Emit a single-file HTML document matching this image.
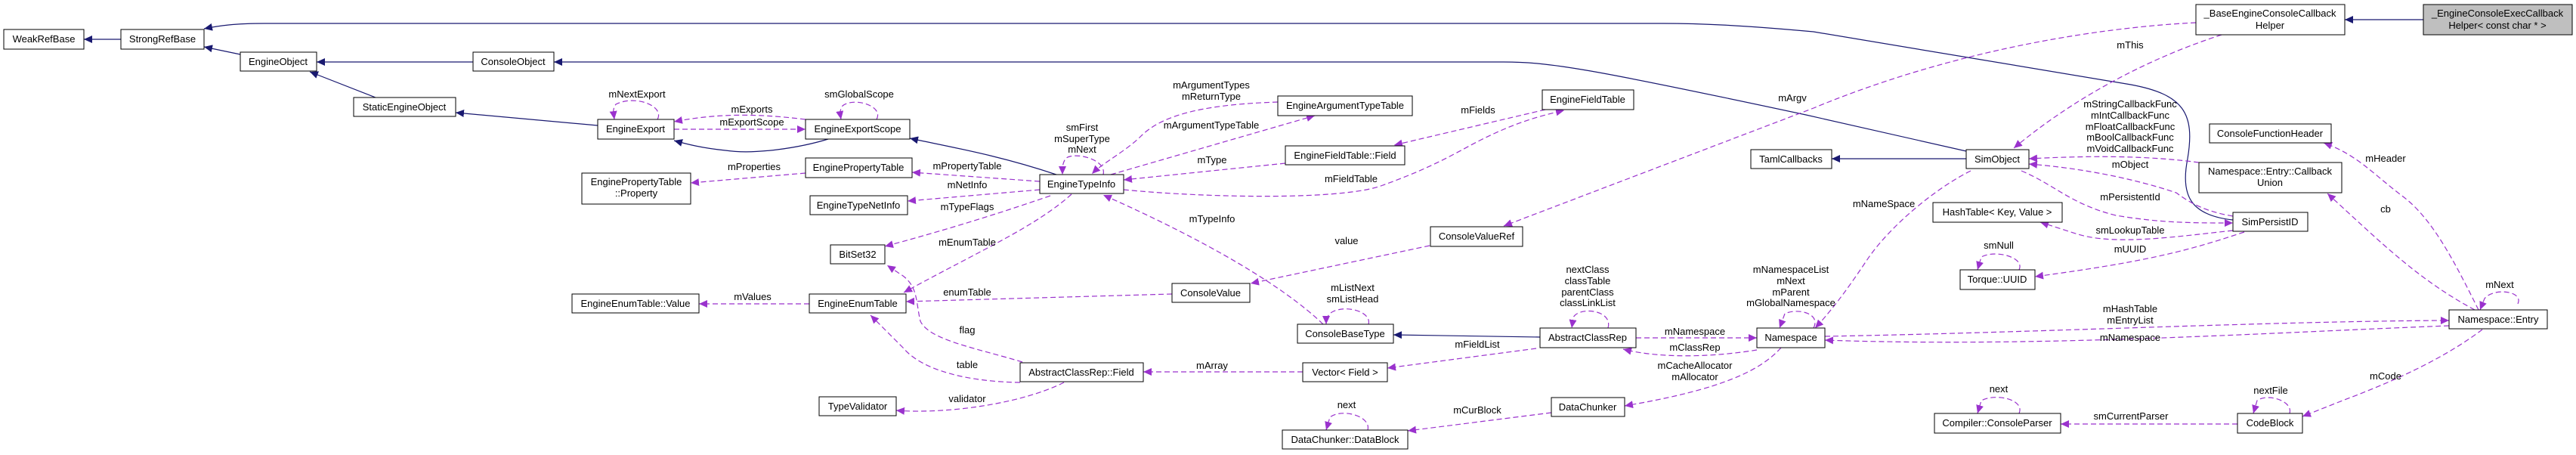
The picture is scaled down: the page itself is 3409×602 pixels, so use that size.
<!DOCTYPE html>
<html><head><meta charset="utf-8"><style>
html,body{margin:0;padding:0;background:#fff;}
svg{display:block;}
text{font-family:"Liberation Sans",Arial,sans-serif;font-size:13px;fill:#000;}
.n{fill:#fff;stroke:#000;stroke-width:1;}
.s{fill:none;stroke:#191970;stroke-width:1.2;marker-end:url(#b);}
.d{fill:none;stroke:#9a32cd;stroke-width:1.2;stroke-dasharray:7,4;marker-end:url(#a);}
</style></head><body>
<svg width="3409" height="602" viewBox="0 0 3409 602" xmlns="http://www.w3.org/2000/svg">
<defs>
<marker id="a" markerWidth="12" markerHeight="10" refX="11" refY="5" orient="auto" markerUnits="userSpaceOnUse"><path d="M0,0 L11,5 L0,10 z" fill="#9a32cd"/></marker>
<marker id="b" markerWidth="12" markerHeight="10" refX="11" refY="5" orient="auto" markerUnits="userSpaceOnUse"><path d="M0,0 L11,5 L0,10 z" fill="#191970"/></marker>
</defs>
<g text-anchor="middle">
<!-- solid edges -->
<path class="s" d="M160,52 L111,52"/>
<path class="s" d="M2955,291 C2900,285 2885,260 2895,210 C2905,150 2890,125 2820,112 L2400,42 C2300,33 2250,31 2200,31 L350,31 C310,31 290,34 270,38"/>
<path class="s" d="M318,72 L270,62"/>
<path class="s" d="M626,82 L419,82"/>
<path class="s" d="M497,129 L410,95"/>
<path class="s" d="M2602,200 L2390,152 C2100,90 2050,82 1990,82 L733,82"/>
<path class="s" d="M791,166 L603,149"/>
<path class="s" d="M1096,184 C1060,195 1000,205 960,199 C930,196 910,191 892,186"/>
<path class="s" d="M1398,231 C1320,205 1260,195 1204,183"/>
<path class="s" d="M2038,446 L1844,443"/>
<path class="s" d="M2602,210 L2424,210"/>
<path class="s" d="M3207,26 L3103,26"/>
<!-- dashed edges -->
<path class="d" d="M870,158 C880,140 840,125 815,138 C810,145 812,150 813,158"/>
<path class="d" d="M1066,158 C1000,150 950,150 892,161"/>
<path class="d" d="M892,171 L1066,171"/>
<path class="d" d="M1160,158 C1170,140 1130,128 1115,140 C1110,148 1112,152 1113,158"/>
<path class="d" d="M1066,229 L914,242"/>
<path class="d" d="M1071,402 L925,402"/>
<path class="d" d="M1376,240 L1207,228"/>
<path class="d" d="M1376,251 L1201,266"/>
<path class="d" d="M1390,259 C1300,290 1230,310 1171,326"/>
<path class="d" d="M1418,257 C1370,300 1300,330 1196,387"/>
<path class="d" d="M1460,231 C1465,210 1420,200 1410,210 C1405,218 1406,225 1406,231"/>
<path class="d" d="M1691,135 C1600,138 1540,150 1510,180 C1490,200 1460,215 1445,230"/>
<path class="d" d="M1470,231 L1740,153"/>
<path class="d" d="M1701,216 L1487,238"/>
<path class="d" d="M1487,251 C1600,262 1780,265 1830,245 C1900,220 1930,200 1960,185 C2000,165 2030,155 2070,146"/>
<path class="d" d="M2045,145 L1845,192"/>
<path class="d" d="M1751,429 C1700,380 1600,320 1460,258"/>
<path class="d" d="M1892,325 L1655,375"/>
<path class="d" d="M1551,389 L1199,399"/>
<path class="d" d="M1811,429 C1815,415 1790,405 1770,410 C1758,413 1755,420 1755,429"/>
<path class="d" d="M1353,479 C1290,460 1230,450 1218,425 C1212,400 1215,380 1195,365 L1174,351"/>
<path class="d" d="M1350,506 C1280,505 1220,490 1195,460 L1152,417"/>
<path class="d" d="M1408,506 C1350,535 1250,548 1186,543"/>
<path class="d" d="M1724,492 L1513,492"/>
<path class="d" d="M1810,569 C1815,550 1775,540 1760,552 L1755,569"/>
<path class="d" d="M2033,461 L1836,487"/>
<path class="d" d="M2128,434 C2135,410 2090,405 2082,420 L2080,434"/>
<path class="d" d="M2400,434 C2410,415 2380,407 2362,415 L2355,434"/>
<path class="d" d="M2165,447 L2325,447"/>
<path class="d" d="M2325,463 C2270,472 2200,475 2148,462"/>
<path class="d" d="M2357,460 C2330,490 2280,515 2150,537"/>
<path class="d" d="M2053,546 L1863,570"/>
<path class="d" d="M2906,30 C2800,35 2600,60 2400,143 L1990,299"/>
<path class="d" d="M2940,46 C2850,75 2750,125 2665,196"/>
<path class="d" d="M2910,215 C2850,207 2780,205 2685,210"/>
<path class="d" d="M2955,286 C2920,280 2900,270 2880,255 C2820,235 2750,222 2685,217"/>
<path class="d" d="M2675,226 C2720,245 2740,270 2800,285 C2860,295 2900,295 2955,295"/>
<path class="d" d="M2955,305 C2880,313 2800,325 2750,310 L2700,294"/>
<path class="d" d="M2970,307 C2900,330 2850,345 2693,366"/>
<path class="d" d="M2672,357 C2680,340 2640,330 2622,340 L2617,357"/>
<path class="d" d="M2608,226 C2560,250 2500,300 2470,345 C2440,390 2420,415 2402,434"/>
<path class="d" d="M2415,445 C2700,440 3000,425 3241,424"/>
<path class="d" d="M3241,431 C3000,440 2700,460 2415,450"/>
<path class="d" d="M2672,547 C2680,528 2640,520 2622,530 L2617,547"/>
<path class="d" d="M2961,561 L2727,561"/>
<path class="d" d="M3030,547 C3035,530 3000,520 2987,530 L2982,547"/>
<path class="d" d="M3280,410 C3250,350 3220,290 3180,260 C3140,230 3120,205 3075,189"/>
<path class="d" d="M3275,410 C3200,370 3150,320 3080,256"/>
<path class="d" d="M3332,402 C3340,385 3300,380 3288,395 L3282,410"/>
<path class="d" d="M3285,436 C3240,470 3180,500 3100,530 L3047,551"/>
<!-- nodes -->
<rect class="n" x="5" y="39" width="106" height="26"/><text x="58" y="56">WeakRefBase</text>
<rect class="n" x="160" y="39" width="110" height="26"/><text x="215" y="56">StrongRefBase</text>
<rect class="n" x="318" y="69" width="101" height="25"/><text x="368" y="86">EngineObject</text>
<rect class="n" x="468" y="129" width="135" height="25"/><text x="535" y="146">StaticEngineObject</text>
<rect class="n" x="626" y="69" width="107" height="25"/><text x="679" y="86">ConsoleObject</text>
<rect class="n" x="791" y="158" width="101" height="26"/><text x="841" y="175">EngineExport</text>
<rect class="n" x="1066" y="158" width="138" height="26"/><text x="1135" y="175">EngineExportScope</text>
<rect class="n" x="1066" y="209" width="141" height="26"/><text x="1136" y="226">EnginePropertyTable</text>
<rect class="n" x="770" y="229" width="144" height="41"/><text x="842" y="245">EnginePropertyTable</text><text x="842" y="260">::Property</text>
<rect class="n" x="1072" y="259" width="129" height="25"/><text x="1136" y="276">EngineTypeNetInfo</text>
<rect class="n" x="1099" y="324" width="72" height="25"/><text x="1135" y="341">BitSet32</text>
<rect class="n" x="757" y="389" width="168" height="25"/><text x="841" y="406">EngineEnumTable::Value</text>
<rect class="n" x="1071" y="389" width="128" height="25"/><text x="1135" y="406">EngineEnumTable</text>
<rect class="n" x="1084" y="525" width="102" height="25"/><text x="1135" y="542">TypeValidator</text>
<rect class="n" x="1376" y="231" width="111" height="25"/><text x="1431" y="248">EngineTypeInfo</text>
<rect class="n" x="1691" y="127" width="178" height="26"/><text x="1780" y="144">EngineArgumentTypeTable</text>
<rect class="n" x="1701" y="193" width="158" height="25"/><text x="1780" y="210">EngineFieldTable::Field</text>
<rect class="n" x="2041" y="119" width="121" height="26"/><text x="2101" y="136">EngineFieldTable</text>
<rect class="n" x="1551" y="375" width="103" height="25"/><text x="1602" y="392">ConsoleValue</text>
<rect class="n" x="1717" y="429" width="127" height="25"/><text x="1780" y="446">ConsoleBaseType</text>
<rect class="n" x="1350" y="480" width="163" height="25"/><text x="1431" y="497">AbstractClassRep::Field</text>
<rect class="n" x="1724" y="480" width="112" height="25"/><text x="1780" y="497">Vector&lt; Field &gt;</text>
<rect class="n" x="1697" y="569" width="166" height="25"/><text x="1780" y="586">DataChunker::DataBlock</text>
<rect class="n" x="1893" y="300" width="122" height="26"/><text x="1954" y="317">ConsoleValueRef</text>
<rect class="n" x="2317" y="198" width="107" height="25"/><text x="2370" y="215">TamlCallbacks</text>
<rect class="n" x="2038" y="434" width="127" height="26"/><text x="2101" y="451">AbstractClassRep</text>
<rect class="n" x="2325" y="434" width="90" height="26"/><text x="2370" y="451">Namespace</text>
<rect class="n" x="2053" y="526" width="97" height="25"/><text x="2101" y="543">DataChunker</text>
<rect class="n" x="2906" y="6" width="197" height="40"/><text x="3004" y="22">_BaseEngineConsoleCallback</text><text x="3004" y="38">Helper</text>
<rect x="3207" y="6" width="197" height="40" fill="#bfbfbf" stroke="#000"/><text x="3305" y="22">_EngineConsoleExecCallback</text><text x="3305" y="38">Helper&lt; const char * &gt;</text>
<rect class="n" x="2602" y="198" width="83" height="25"/><text x="2643" y="215">SimObject</text>
<rect class="n" x="2558" y="268" width="171" height="26"/><text x="2643" y="285">HashTable&lt; Key, Value &gt;</text>
<rect class="n" x="2594" y="357" width="99" height="26"/><text x="2643" y="374">Torque::UUID</text>
<rect class="n" x="2955" y="281" width="99" height="25"/><text x="3004" y="298">SimPersistID</text>
<rect class="n" x="2924" y="164" width="161" height="25"/><text x="3004" y="181">ConsoleFunctionHeader</text>
<rect class="n" x="2910" y="215" width="189" height="40"/><text x="3004" y="231">Namespace::Entry::Callback</text><text x="3004" y="246">Union</text>
<rect class="n" x="3241" y="410" width="130" height="25"/><text x="3306" y="427">Namespace::Entry</text>
<rect class="n" x="2560" y="547" width="167" height="26"/><text x="2643" y="564">Compiler::ConsoleParser</text>
<rect class="n" x="2961" y="547" width="86" height="26"/><text x="3004" y="564">CodeBlock</text>
<!-- labels -->
<text x="843" y="129">mNextExport</text>
<text x="1137" y="129">smGlobalScope</text>
<text x="995" y="149">mExports</text>
<text x="995" y="166">mExportScope</text>
<text x="998" y="225">mProperties</text>
<text x="996" y="397">mValues</text>
<text x="1280" y="224">mPropertyTable</text>
<text x="1280" y="249">mNetInfo</text>
<text x="1280" y="278">mTypeFlags</text>
<text x="1280" y="325">mEnumTable</text>
<text x="1280" y="391">enumTable</text>
<text x="1280" y="441">flag</text>
<text x="1280" y="487">table</text>
<text x="1280" y="532">validator</text>
<text x="1432" y="173">smFirst</text>
<text x="1432" y="188">mSuperType</text>
<text x="1432" y="202">mNext</text>
<text x="1603" y="117">mArgumentTypes</text>
<text x="1603" y="132">mReturnType</text>
<text x="1603" y="170">mArgumentTypeTable</text>
<text x="1604" y="216">mType</text>
<text x="1788" y="241">mFieldTable</text>
<text x="1956" y="150">mFields</text>
<text x="1604" y="294">mTypeInfo</text>
<text x="1782" y="323">value</text>
<text x="1790" y="385">mListNext</text>
<text x="1790" y="400">smListHead</text>
<text x="1604" y="488">mArray</text>
<text x="1782" y="540">next</text>
<text x="2372" y="134">mArgv</text>
<text x="2101" y="361">nextClass</text>
<text x="2101" y="376">classTable</text>
<text x="2101" y="391">parentClass</text>
<text x="2101" y="405">classLinkList</text>
<text x="2370" y="361">mNamespaceList</text>
<text x="2370" y="376">mNext</text>
<text x="2370" y="391">mParent</text>
<text x="2370" y="405">mGlobalNamespace</text>
<text x="2243" y="443">mNamespace</text>
<text x="2243" y="464">mClassRep</text>
<text x="2243" y="488">mCacheAllocator</text>
<text x="2243" y="503">mAllocator</text>
<text x="1955" y="460">mFieldList</text>
<text x="1955" y="547">mCurBlock</text>
<text x="2819" y="64">mThis</text>
<text x="2819" y="142">mStringCallbackFunc</text>
<text x="2819" y="157">mIntCallbackFunc</text>
<text x="2819" y="172">mFloatCallbackFunc</text>
<text x="2819" y="186">mBoolCallbackFunc</text>
<text x="2819" y="201">mVoidCallbackFunc</text>
<text x="2819" y="222">mObject</text>
<text x="2819" y="265">mPersistentId</text>
<text x="2819" y="309">smLookupTable</text>
<text x="2819" y="334">mUUID</text>
<text x="2645" y="329">smNull</text>
<text x="2493" y="274">mNameSpace</text>
<text x="2819" y="413">mHashTable</text>
<text x="2819" y="428">mEntryList</text>
<text x="2819" y="451">mNamespace</text>
<text x="2645" y="519">next</text>
<text x="2820" y="555">smCurrentParser</text>
<text x="3005" y="521">nextFile</text>
<text x="3157" y="214">mHeader</text>
<text x="3157" y="281">cb</text>
<text x="3308" y="381">mNext</text>
<text x="3157" y="502">mCode</text>
</g>
</svg>
</body></html>
